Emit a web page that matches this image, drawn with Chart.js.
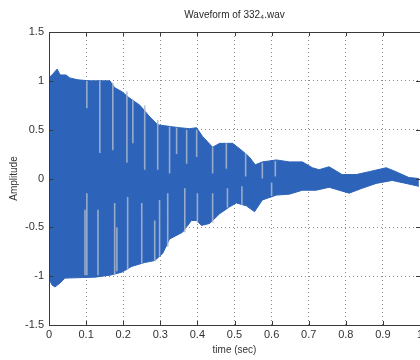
<!DOCTYPE html>
<html>
<head>
<meta charset="utf-8">
<script src="https://cdn.jsdelivr.net/npm/chart.js@4/dist/chart.umd.min.js"></script>
<style>
  html, body { margin: 0; padding: 0; background: #fff; overflow: hidden; }
  #wrap { width: 430px; height: 360px; }
</style>
</head>
<body>
<div id="wrap"><canvas id="c" width="430" height="360"></canvas></div>
<script>
// Upper envelope of the recorded waveform (time in s, amplitude)
const upperTime = [0.002, 0.008, 0.022, 0.030, 0.046, 0.056, 0.078, 0.110, 0.164, 0.177, 0.196, 0.215, 0.245, 0.272, 0.293, 0.331, 0.352, 0.379, 0.398, 0.414, 0.441, 0.460, 0.495, 0.522, 0.540, 0.556, 0.575, 0.613, 0.648, 0.683, 0.710, 0.728, 0.755, 0.790, 0.828, 0.863, 0.909, 0.935, 0.970, 0.997];
const upperAmp  = [1.04, 1.06, 1.12, 1.06, 1.06, 1.03, 1.01, 1.00, 1.00, 0.93, 0.89, 0.83, 0.75, 0.63, 0.55, 0.53, 0.52, 0.51, 0.52, 0.43, 0.32, 0.36, 0.36, 0.28, 0.22, 0.14, 0.17, 0.19, 0.17, 0.17, 0.11, 0.09, 0.12, 0.04, 0.04, 0.07, 0.11, 0.07, 0.01, 0.00];

// Lower envelope
const lowerTime = [0.002, 0.008, 0.016, 0.030, 0.043, 0.124, 0.164, 0.196, 0.223, 0.258, 0.285, 0.306, 0.325, 0.360, 0.384, 0.398, 0.411, 0.433, 0.460, 0.487, 0.505, 0.532, 0.554, 0.575, 0.613, 0.648, 0.683, 0.720, 0.755, 0.809, 0.844, 0.882, 0.925, 0.962, 0.997];
const lowerAmp  = [-1.04, -1.09, -1.11, -1.07, -1.02, -1.01, -0.99, -0.96, -0.90, -0.86, -0.84, -0.77, -0.62, -0.55, -0.43, -0.43, -0.48, -0.46, -0.36, -0.29, -0.25, -0.28, -0.34, -0.22, -0.17, -0.16, -0.12, -0.12, -0.09, -0.15, -0.10, -0.05, -0.02, -0.05, -0.08];

// Pale aliasing streaks inside the dense oscillation
const streakTime = [0.102, 0.137, 0.172, 0.210, 0.226, 0.258, 0.293, 0.325, 0.344, 0.371, 0.398, 0.441, 0.478, 0.530, 0.575, 0.610,
                    0.097, 0.102, 0.132, 0.177, 0.183, 0.212, 0.250, 0.285, 0.298, 0.320, 0.366, 0.400, 0.441, 0.481, 0.520, 0.600];
const streakFrom = [1.00, 1.00, 0.98, 0.89, 0.80, 0.75, 0.60, 0.53, 0.52, 0.50, 0.50, 0.32, 0.36, 0.26, 0.16, 0.18,
                    -0.99, -0.99, -0.99, -0.99, -0.95, -0.93, -0.87, -0.84, -0.80, -0.70, -0.55, -0.45, -0.45, -0.30, -0.27, -0.18];
const streakTo   = [0.72, 0.26, 0.29, 0.16, 0.36, 0.09, 0.09, 0.05, 0.25, 0.15, 0.22, 0.05, 0.10, 0.02, 0.00, 0.02,
                    -0.32, -0.15, -0.32, -0.25, -0.50, -0.19, -0.25, -0.43, -0.22, -0.15, -0.10, -0.15, -0.15, -0.10, -0.08, -0.04];

// Axis ticks
const xTicks = [0, 0.1, 0.2, 0.3, 0.4, 0.5, 0.6, 0.7, 0.8, 0.9, 1];
const yTicks = [-1.5, -1, -0.5, 0, 0.5, 1, 1.5];

const WAVE = '#2d63b8';
const STREAK = 'rgba(170,184,206,0.85)';
const FONT = "'Liberation Sans', Arial, sans-serif";

const upperPts = upperTime.map((t, i) => ({ x: t, y: upperAmp[i] }));
const lowerPts = lowerTime.map((t, i) => ({ x: t, y: lowerAmp[i] }));
const streakPts = [];
streakTime.forEach((t, i) => {
  streakPts.push({ x: t, y: streakFrom[i] }, { x: t, y: streakTo[i] }, { x: t, y: null });
});

// Full box around the axes with inward tick marks
const axesBox = {
  id: 'axesBox',
  afterDraw(chart) {
    const { ctx, chartArea: a, scales } = chart;
    ctx.save();
    ctx.strokeStyle = '#3a3a3a';
    ctx.lineWidth = 1;
    ctx.strokeRect(Math.round(a.left) + 0.5, Math.round(a.top) + 0.5,
                   Math.round(a.right - a.left), Math.round(a.bottom - a.top));
    ctx.beginPath();
    xTicks.forEach(v => {
      const px = Math.round(scales.x.getPixelForValue(v)) + 0.5;
      ctx.moveTo(px, a.bottom); ctx.lineTo(px, a.bottom - 4);
      ctx.moveTo(px, a.top); ctx.lineTo(px, a.top + 4);
    });
    yTicks.forEach(v => {
      const py = Math.round(scales.y.getPixelForValue(v)) + 0.5;
      ctx.moveTo(a.left, py); ctx.lineTo(a.left + 4, py);
      ctx.moveTo(a.right, py); ctx.lineTo(a.right - 4, py);
    });
    ctx.stroke();
    ctx.restore();
  }
};

new Chart(document.getElementById('c'), {
  type: 'line',
  data: {
    datasets: [
      { data: lowerPts, borderColor: WAVE, borderWidth: 1, backgroundColor: WAVE, pointRadius: 0, fill: false, order: 1 },
      { data: upperPts, borderColor: WAVE, borderWidth: 1, backgroundColor: WAVE, pointRadius: 0, fill: '-1', order: 1 },
      { data: streakPts, borderColor: STREAK, borderWidth: 1.6, pointRadius: 0, fill: false, spanGaps: false, order: 0 }
    ]
  },
  options: {
    responsive: false,
    animation: false,
    devicePixelRatio: 1,
    layout: { padding: { left: 0, right: 10, top: 0, bottom: 0 } },
    plugins: {
      legend: { display: false },
      tooltip: { enabled: false },
      title: {
        display: true,
        text: 'Waveform of 332\u2084.wav',
        color: '#2a2a2a',
        fullSize: false,
        font: { family: FONT, size: 10, weight: 'normal' },
        padding: { top: 9, bottom: 11 }
      }
    },
    scales: {
      x: {
        type: 'linear',
        min: 0, max: 1,
        afterFit: s => { s.height = 35; },
        afterBuildTicks: s => { s.ticks = xTicks.map(v => ({ value: v })); },
        ticks: {
          color: '#333',
          font: { family: FONT, size: 11 },
          padding: 3,
          maxRotation: 0,
          autoSkip: false,
          callback: v => String(Number(v.toFixed(1)))
        },
        grid: { color: '#8a8a8a', lineWidth: 1, drawTicks: false },
        border: { display: false, dash: [1, 3] },
        title: { display: true, text: 'time (sec)', color: '#333', font: { family: FONT, size: 10 }, padding: { top: 0, bottom: 4 } }
      },
      y: {
        min: -1.5, max: 1.5,
        afterFit: s => { s.width = 49; },
        afterBuildTicks: s => { s.ticks = yTicks.map(v => ({ value: v })); },
        ticks: {
          color: '#333',
          font: { family: FONT, size: 11 },
          padding: 5,
          callback: v => String(v)
        },
        grid: { color: '#8a8a8a', lineWidth: 1, drawTicks: false },
        border: { display: false, dash: [1, 3] },
        title: { display: true, text: 'Amplitude', color: '#333', font: { family: FONT, size: 10 }, padding: { top: 8, bottom: 0 } }
      }
    }
  },
  plugins: [axesBox]
});
</script>
</body>
</html>
